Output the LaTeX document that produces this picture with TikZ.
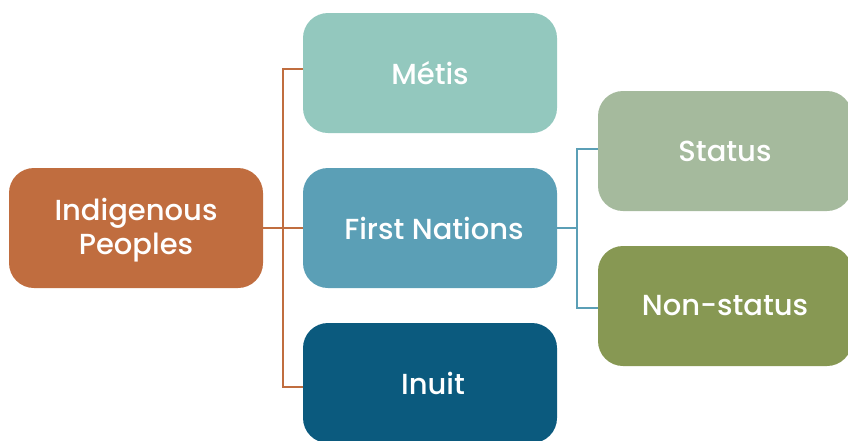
\documentclass[tikz,border=0pt]{standalone}
\usepackage{fontspec}
\setmainfont{Poppins}[UprightFont={* Medium}]
\definecolor{cind}{HTML}{C06D3F}
\definecolor{cmet}{HTML}{93C8BE}
\definecolor{cfn}{HTML}{5B9FB6}
\definecolor{cinu}{HTML}{0B5A7E}
\definecolor{csta}{HTML}{A5BA9D}
\definecolor{cnon}{HTML}{879853}
\tikzset{
  lbl/.style={text=white, align=center, inner sep=0pt, font=\fontsize{29}{34}\selectfont},
  box/.style={lbl, rectangle, rounded corners=25pt, minimum width=254pt, minimum height=120pt},
  oline/.style={draw=cind, line width=1.6pt},
  bline/.style={draw=cfn, line width=1.6pt}
}
\begin{document}
\begin{tikzpicture}[x=1pt,y=-1pt]
\useasboundingbox (0,0) rectangle (848,440);
\node[box, fill=cind] (ind) at (136,228) {};
\node[lbl] (indtext) at (136,230) {Indigenous\\Peoples};
\node[box, fill=cmet] (met) at (430,73) {Métis};
\node[box, fill=cfn] (fn) at (430,228) {\hspace*{8pt}First Nations};
\node[box, fill=cinu] (inu) at (430,383) {\hspace*{6pt}Inuit};
\node[box, fill=csta] (sta) at (725,151) {Status};
\node[box, fill=cnon] (non) at (725,306) {Non-status};
\coordinate (oj) at (283,228);
\coordinate (bj) at (577,228);
\draw[oline] (ind.east) -- (fn.west);
\draw[oline] ([yshift=4pt]met.west) -| (oj) |- ([yshift=-4pt]inu.west);
\draw[bline] (fn.east) -- (bj);
\draw[bline] ([yshift=2pt]sta.west) -| (bj) |- ([yshift=-2pt]non.west);
\end{tikzpicture}
\end{document}
